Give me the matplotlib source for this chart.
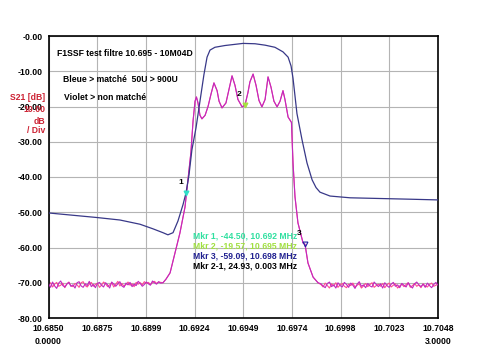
import matplotlib
matplotlib.use("Agg")
import matplotlib.pyplot as plt
import numpy as np

# sweep limits (MHz)
f_start = 10.6850
f_stop = 10.7048
x_labels = ["10.6850", "10.6875", "10.6899", "10.6924", "10.6949",
            "10.6974", "10.6998", "10.7023", "10.7048"]
y_ticks = [0, -10, -20, -30, -40, -50, -60, -70, -80]

# blue trace (matched)
blue_f = [10.68500, 10.68747, 10.68863, 10.68965, 10.69031, 10.69082, 10.69107,
          10.69133, 10.69158, 10.69184, 10.69199, 10.69214, 10.69229, 10.69250,
          10.69270, 10.69290, 10.69306, 10.69321, 10.69346, 10.69397, 10.69489,
          10.69550, 10.69601, 10.69651, 10.69692, 10.69718, 10.69733, 10.69743,
          10.69753, 10.69763, 10.69789, 10.69814, 10.69840, 10.69860, 10.69880,
          10.69931, 10.70033, 10.70185, 10.70338, 10.70480]
blue_db = [-50.2, -51.5, -52.2, -53.4, -54.7, -55.8, -56.4,
           -55.8, -52.5, -47.8, -44.5, -39.5, -32.3, -26.0,
           -18.5, -11.0, -6.0, -4.0, -3.2, -2.7, -2.1,
           -2.2, -2.6, -3.2, -4.5, -6.0, -8.5, -12.0,
           -17.0, -22.0, -29.5, -36.0, -40.8, -43.0, -44.3,
           -45.4, -45.9, -46.1, -46.3, -46.5]

# violet trace (not matched), filter skirt and passband
vio_f = [10.69082, 10.69097, 10.69118, 10.69143, 10.69168, 10.69194, 10.69209,
         10.69224, 10.69235, 10.69245, 10.69252, 10.69260, 10.69270, 10.69280,
         10.69296, 10.69311, 10.69326, 10.69341, 10.69357, 10.69367, 10.69382,
         10.69402, 10.69418, 10.69433, 10.69448, 10.69463, 10.69484, 10.69499,
         10.69514, 10.69524, 10.69540, 10.69555, 10.69570, 10.69585, 10.69601,
         10.69616, 10.69631, 10.69646, 10.69662, 10.69677, 10.69692, 10.69702,
         10.69718, 10.69735, 10.69743, 10.69753, 10.69768, 10.69794, 10.69804,
         10.69819, 10.69845, 10.69870]
vio_db = [-70.0, -69.0, -67.2, -61.6, -55.9, -48.5, -40.8,
          -33.0, -24.0, -18.5, -17.3, -19.0, -22.5, -23.5,
          -22.5, -20.0, -16.5, -13.3, -15.5, -18.5, -20.4,
          -19.0, -15.0, -11.3, -14.0, -18.0, -20.1, -19.6,
          -16.0, -13.0, -10.8, -14.0, -18.3, -20.1, -18.0,
          -11.6, -14.5, -18.5, -20.1, -18.5, -15.5, -18.0,
          -23.0, -24.5, -36.0, -45.6, -53.0, -58.7, -59.1,
          -64.4, -68.4, -70.0]

# noise floor
left_floor_db = [-70.2, -71.3, -69.8, -70.9, -71.6, -70.1, -69.5, -70.8, -71.2, -70.4,
                 -69.9, -71.0, -70.6, -71.5, -70.0, -69.7, -70.9, -71.3, -70.3, -70.8,
                 -69.6, -71.1, -70.5, -71.4, -70.2, -69.9, -70.7, -71.2, -70.0, -70.6,
                 -71.5, -69.8, -70.4, -71.0, -70.3, -69.7, -70.9, -71.3, -70.1, -70.6,
                 -69.9, -71.1, -70.4, -70.8, -69.6, -70.2, -71.0, -70.5, -69.8, -70.3,
                 -70.7, -69.5, -70.0, -70.4, -69.7, -70.1]
right_floor_db = [-70.3, -70.9, -71.4, -70.2, -69.8, -71.1, -70.6, -71.5, -70.0, -70.8,
                  -71.2, -69.9, -70.5, -71.3, -70.1, -70.7, -71.6, -70.4, -69.7, -71.0,
                  -70.6, -71.4, -70.2, -70.9, -71.2, -69.8, -70.5, -71.1, -70.3, -71.5,
                  -70.0, -70.8, -71.3, -70.4, -69.9, -71.0, -70.6, -71.4, -70.2, -70.7,
                  -71.2, -70.0, -70.9, -71.5, -70.3, -69.8, -70.6, -71.1, -70.4, -71.3,
                  -70.1, -70.8, -71.4, -70.5, -69.9, -70.7]
pink_left_db = [-70.6, -70.0, -71.2, -70.4, -69.9, -71.0, -70.7, -70.1, -71.4, -70.3,
                -69.8, -70.9, -71.1, -70.2, -70.6, -71.3, -70.0, -69.7, -70.8, -71.2,
                -70.4, -69.9, -71.0, -70.5, -70.1, -71.3, -70.7, -69.8, -70.3, -71.1,
                -70.6, -70.0, -71.2, -70.4, -69.6, -70.9, -70.2, -71.0, -70.5, -69.8,
                -70.7, -70.3, -71.1, -69.9, -70.4, -70.0, -70.6, -69.7, -70.2, -69.9,
                -70.5, -70.0, -69.6, -70.2, -69.8, -69.9]
pink_right_db = [-70.5, -71.2, -70.1, -70.8, -71.5, -70.3, -70.9, -70.0, -71.3, -70.6,
                 -70.2, -71.0, -71.4, -70.4, -70.8, -70.1, -71.2, -70.7, -70.3, -71.5,
                 -70.9, -70.2, -71.1, -70.5, -70.0, -71.3, -70.8, -70.4, -71.0, -70.2,
                 -71.4, -70.6, -70.1, -71.2, -70.7, -70.3, -71.5, -70.9, -70.4, -71.1,
                 -70.5, -70.0, -71.3, -70.8, -70.2, -71.0, -70.6, -71.4, -70.3, -70.9,
                 -71.2, -70.5, -70.1, -71.0, -70.7, -70.4]
left_floor_f = np.linspace(f_start, 10.69070, len(left_floor_db))
right_floor_f = np.linspace(10.69885, f_stop, len(right_floor_db))

markers = [(10.69199, -44.50, "1", "#30e0c8"),
           (10.69499, -19.57, "2", "#a8e040"),
           (10.69804, -59.09, "3", "#2020a0")]
marker_lines = [("Mkr 1, -44.50, 10.692 MHz", "#30e0a0"),
                ("Mkr 2, -19.57, 10.695 MHz", "#a0e040"),
                ("Mkr 3, -59.09, 10.698 MHz", "#202090"),
                ("Mkr 2-1, 24.93, 0.003 MHz", "#000000")]


def main():
    W, H = 488, 355
    fig = plt.figure(figsize=(W / 100, H / 100), dpi=100)
    plt.rcParams['font.family'] = ['Liberation Sans', 'DejaVu Sans']

    def fx(px):
        return px / W

    def fy(py):
        return 1 - py / H

    ax = fig.add_axes([fx(48.5), fy(318), fx(438) - fx(48.5), fy(36) - fy(318)])

    vio_full_f = np.concatenate([left_floor_f, vio_f, right_floor_f])
    vio_full_db = np.concatenate([left_floor_db, vio_db, right_floor_db])
    pink_full_f = np.concatenate([left_floor_f, vio_f, right_floor_f])
    pink_full_db = np.concatenate([pink_left_db, vio_db, pink_right_db])

    ax.plot(pink_full_f, pink_full_db, color="#ff4c90", lw=0.8, zorder=2)
    ax.plot(vio_full_f, vio_full_db, color="#c028c0", lw=0.8, zorder=3)
    ax.plot(blue_f, blue_db, color="#383888", lw=0.9, zorder=4)

    for f, db, name, col in markers:
        ax.plot(f, db, marker="v", ms=3.5, mfc="none" if name == "3" else col,
                mec=col, mew=0.8, zorder=5)
        ax.annotate(name, (f, db), xytext=(-4, 5), textcoords="offset points",
                    fontsize=6, fontweight="bold", ha="center", va="bottom")

    ax.set_xlim(f_start, f_stop)
    ax.set_ylim(-80, 0)
    xt = np.linspace(f_start, f_stop, len(x_labels))
    ax.set_xticks(xt)
    ax.set_xticklabels(x_labels)
    ax.set_yticks(y_ticks)
    ax.set_yticklabels(["-0.00" if v == 0 else f"{v:.2f}" for v in y_ticks])
    ax.set_xticks([xt[4]], minor=True)
    ax.tick_params(which="major", length=0, labelsize=6.2, pad=4)
    ax.tick_params(which="minor", length=5, width=1, color="#303030")
    for lab in ax.get_xticklabels() + ax.get_yticklabels():
        lab.set_fontweight("bold")
    ax.grid(True, color="#b4b4b4", lw=0.8)
    for s in ax.spines.values():
        s.set_linewidth(1.2)

    # start / stop second row
    fig.text(fx(48.5), fy(342), "0.0000", fontsize=6.2, fontweight="bold", ha="center", va="center")
    fig.text(fx(438), fy(342), "3.0000", fontsize=6.2, fontweight="bold", ha="center", va="center")

    # red scale labels
    red = "#cc2233"
    fig.text(fx(45), fy(97), "S21 [dB]", color=red, fontsize=6.2, fontweight="bold", ha="right", va="center")
    fig.text(fx(45), fy(110), "10.00", color=red, fontsize=6.2, fontweight="bold", ha="right", va="center")
    fig.text(fx(45), fy(121), "dB", color=red, fontsize=6.2, fontweight="bold", ha="right", va="center")
    fig.text(fx(45), fy(131), "/ Div", color=red, fontsize=6.2, fontweight="bold", ha="right", va="center")

    # comments
    fig.text(fx(57), fy(54), "F1SSF test filtre 10.695 - 10M04D", fontsize=6.2, fontweight="bold", va="center")
    fig.text(fx(63), fy(80), "Bleue > matché  50U > 900U", fontsize=6.2, fontweight="bold", va="center")
    fig.text(fx(64), fy(97), "Violet > non matché", fontsize=6.2, fontweight="bold", va="center")

    for i, (txt, col) in enumerate(marker_lines):
        fig.text(fx(193), fy(236 + 10 * i), txt, color=col, fontsize=6.2, fontweight="bold", va="center")

    fig.savefig("out.png", dpi=100)


if __name__ == "__main__":
    main()
